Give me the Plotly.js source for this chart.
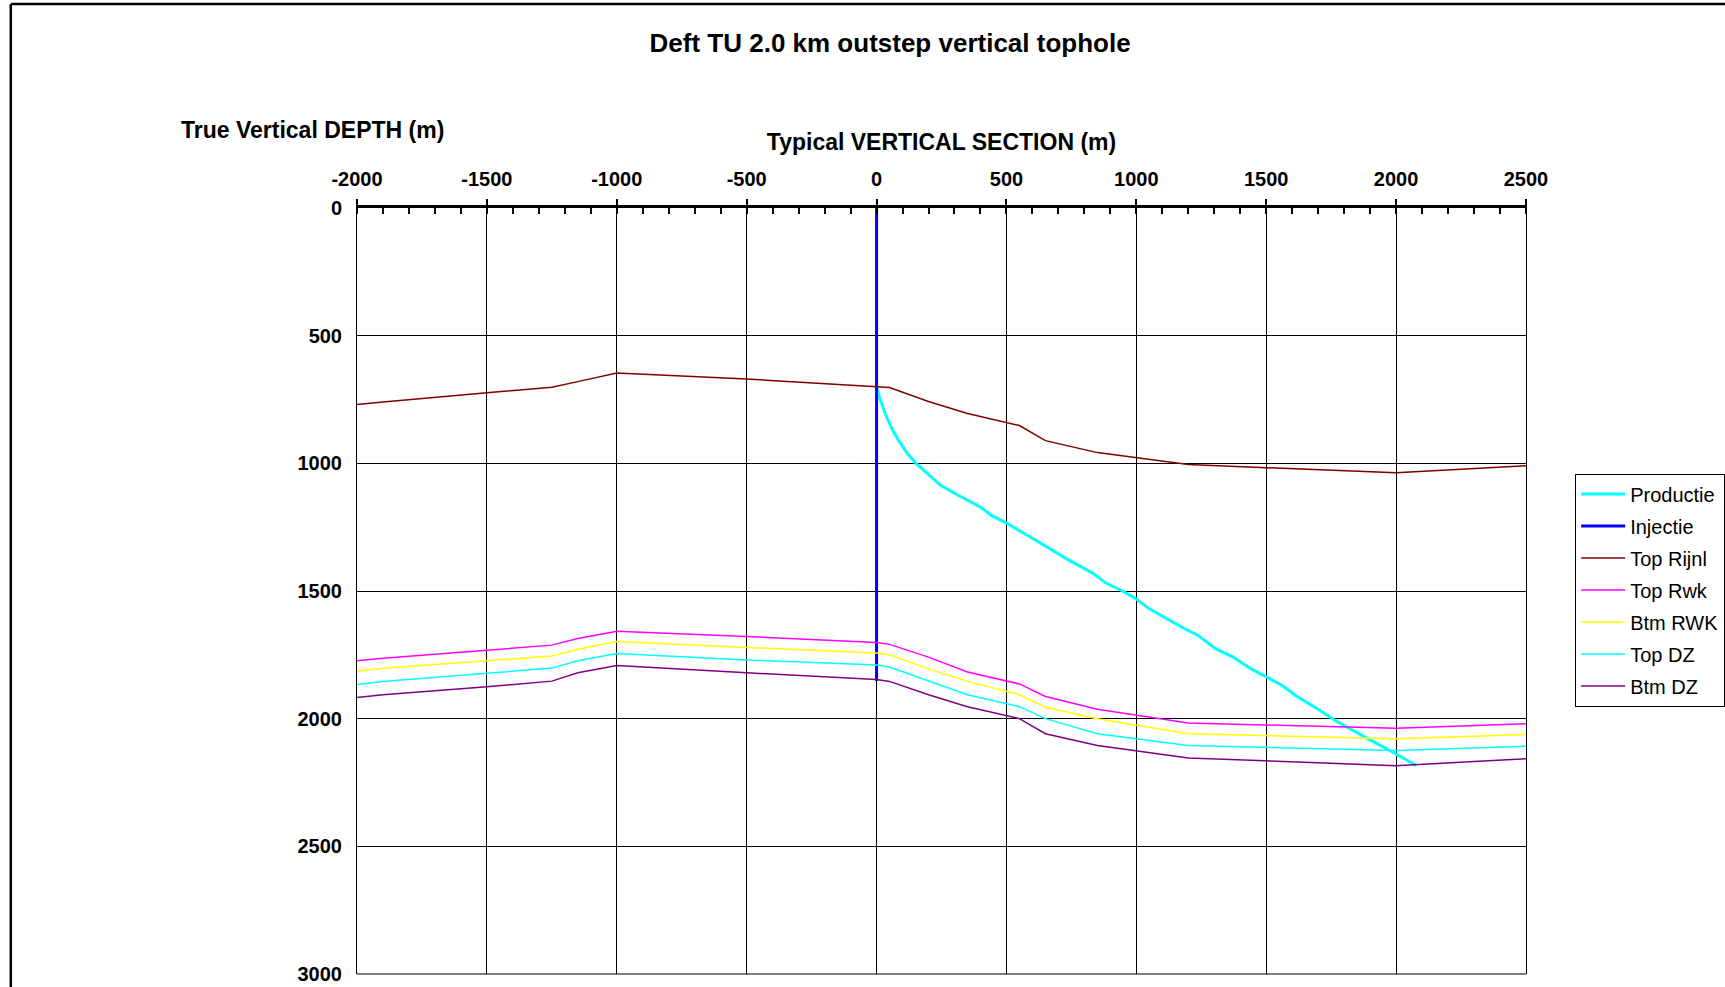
<!DOCTYPE html>
<html>
<head>
<meta charset="utf-8">
<script src="https://cdn.plot.ly/plotly-3.0.1.min.js"></script>
<style>
  html, body { margin: 0; padding: 0; background: #ffffff; }
  #chart { width: 1725px; height: 987px; }
</style>
</head>
<body>
<div id="chart"></div>
<script>
// ---- Data ----
const seriesNames = ["Productie", "Injectie", "Top Rijnl", "Top Rwk", "Btm RWK", "Top DZ", "Btm DZ"];

// Production well path (vertical section m, true vertical depth m)
const prodX = [0, 12, 33, 58, 84, 119, 153, 196, 248, 316, 402, 445, 497, 574, 651, 737, 832, 883, 943, 995,
               1047, 1116, 1184, 1236, 1305, 1373, 1442, 1503, 1563, 1614, 1700, 1769, 1838, 1898, 1958, 2027, 2079];
const prodY = [700, 744, 804, 863, 909, 962, 1001, 1041, 1087, 1126, 1173, 1206, 1232, 1278, 1324, 1377, 1430, 1469, 1498, 1528,
               1568, 1607, 1647, 1673, 1726, 1759, 1805, 1838, 1871, 1910, 1963, 2009, 2049, 2082, 2115, 2154, 2184];

// Injection well (vertical)
const injX = [0, 0];
const injY = [0, 1852];

// Horizons
const horizonX = [-2000, -1900, -1500, -1250, -1150, -1000, -500, 0, 50, 200, 350, 550, 650, 850, 1200, 2000, 2500];
const topRijnl = [770, 760, 724, 702, 680, 646, 670, 698, 703, 758, 805, 852, 911, 958, 1005, 1037, 1009];
const topRwk   = [1773, 1763, 1732, 1712, 1686, 1658, 1678, 1702, 1709, 1759, 1817, 1864, 1913, 1963, 2017, 2038, 2020];
const btmRWK   = [1814, 1803, 1773, 1755, 1728, 1698, 1721, 1743, 1750, 1805, 1854, 1906, 1955, 2000, 2059, 2079, 2062];
const topDZ    = [1866, 1854, 1822, 1802, 1773, 1745, 1770, 1790, 1798, 1851, 1906, 1953, 2000, 2059, 2105, 2125, 2108];
const btmDZ    = [1917, 1906, 1875, 1853, 1820, 1792, 1820, 1847, 1854, 1906, 1953, 2000, 2059, 2105, 2154, 2184, 2157];

const xTickVals = [-2000, -1500, -1000, -500, 0, 500, 1000, 1500, 2000, 2500];
const xTickText = ["-2000", "-1500", "-1000", "-500", "0", "500", "1000", "1500", "2000", "2500"];
const yTickVals = [0, 500, 1000, 1500, 2000, 2500, 3000];
const yTickText = ["0", "500", "1000", "1500", "2000", "2500", "3000"];

const titleText = "Deft TU 2.0 km outstep vertical tophole";
const xTitleText = "Typical VERTICAL SECTION (m)";
const yTitleText = "True Vertical DEPTH (m)";

// ---- Traces ----
const FONT = "Liberation Sans, Arial, sans-serif";
function tr(name, x, y, color, width) {
  return { type: "scatter", mode: "lines", name: name, x: x, y: y,
           line: { color: color, width: width }, legendgroup: name, hoverinfo: "name+x+y" };
}
const traces = [
  tr(seriesNames[0], prodX, prodY, "#00FFFF", 3),
  tr(seriesNames[1], injX, injY, "#0000FF", 3),
  tr(seriesNames[2], horizonX, topRijnl, "#800000", 1.5),
  tr(seriesNames[3], horizonX, topRwk, "#FF00FF", 1.5),
  tr(seriesNames[4], horizonX, btmRWK, "#FFFF00", 1.5),
  tr(seriesNames[5], horizonX, topDZ, "#00FFFF", 1.5),
  tr(seriesNames[6], horizonX, btmDZ, "#800080", 1.5)
];

// plot area in pixels
const PL = 356.5, PR = 1526.5, PT = 208, PB = 974;
const PW = PR - PL, PH = PB - PT;
const px2paperX = p => (p - PL) / PW;
const px2paperY = p => (PB - p) / PH;

const layout = {
  width: 1725, height: 987,
  paper_bgcolor: "#ffffff", plot_bgcolor: "#ffffff",
  margin: { l: PL, r: 1725 - PR, t: PT, b: 987 - PB, pad: 0, autoexpand: false },
  font: { family: FONT, color: "#000000" },
  title: { text: titleText, font: { family: FONT, size: 26, weight: "bold", color: "#000" },
           x: 0.516, xref: "container", xanchor: "center", y: 1 - 43/987, yref: "container", yanchor: "middle" },
  showlegend: true,
  legend: { x: px2paperX(1575.7), y: px2paperY(473.5), xanchor: "left", yanchor: "top", bgcolor: "#ffffff",
            bordercolor: "#000000", borderwidth: 1, font: { family: FONT, size: 20, color: "#000" },
            tracegroupgap: 3, itemwidth: 44 },
  xaxis: {
    side: "top", range: [-2000, 2500], tickmode: "array", tickvals: xTickVals, ticktext: xTickText,
    showgrid: true, gridcolor: "#000000", gridwidth: 1, zeroline: false,
    showline: true, linecolor: "#000000", linewidth: 3,
    ticks: "outside", ticklen: 6, tickwidth: 2, tickcolor: "#000",
    minor: { ticks: "inside", ticklen: 6, tickwidth: 2, tickcolor: "#000", dtick: 100, showgrid: false },
    tickfont: { family: FONT, size: 20, weight: "bold", color: "#000" },
    ticklabelstandoff: 5,
    title: { text: xTitleText, font: { family: FONT, size: 23, weight: "bold", color: "#000" }, standoff: 11 }
  },
  yaxis: {
    range: [3000, 0], tickmode: "array", tickvals: yTickVals, ticktext: yTickText,
    showgrid: true, gridcolor: "#000000", gridwidth: 1, zeroline: false,
    showline: true, linecolor: "#000000", linewidth: 1, mirror: "all",
    ticks: "", tickfont: { family: FONT, size: 20, weight: "bold", color: "#000" },
    ticklabelstandoff: 10
  },
  annotations: [
    { text: yTitleText, xref: "paper", yref: "paper", x: px2paperX(312), y: px2paperY(130),
      xanchor: "center", yanchor: "middle", showarrow: false,
      font: { family: FONT, size: 23, weight: "bold", color: "#000" } }
  ],
  shapes: [
    // bottom edge of plot area (3000 m gridline)
    { type: "line", xref: "paper", yref: "paper", x0: 0, x1: 1, y0: 0, y1: 0,
      line: { color: "#000", width: 1 } },
    // outer chart border (top and left, cropped on right and bottom)
    { type: "line", xref: "paper", yref: "paper", x0: px2paperX(10), x1: px2paperX(1730), y0: px2paperY(4), y1: px2paperY(4),
      line: { color: "#000", width: 2.5 } },
    { type: "line", xref: "paper", yref: "paper", x0: px2paperX(10), x1: px2paperX(10), y0: px2paperY(4), y1: px2paperY(995),
      line: { color: "#000", width: 2.5 } }
  ]
};

Plotly.newPlot("chart", traces, layout, { displayModeBar: false, responsive: false });
</script>
</body>
</html>
